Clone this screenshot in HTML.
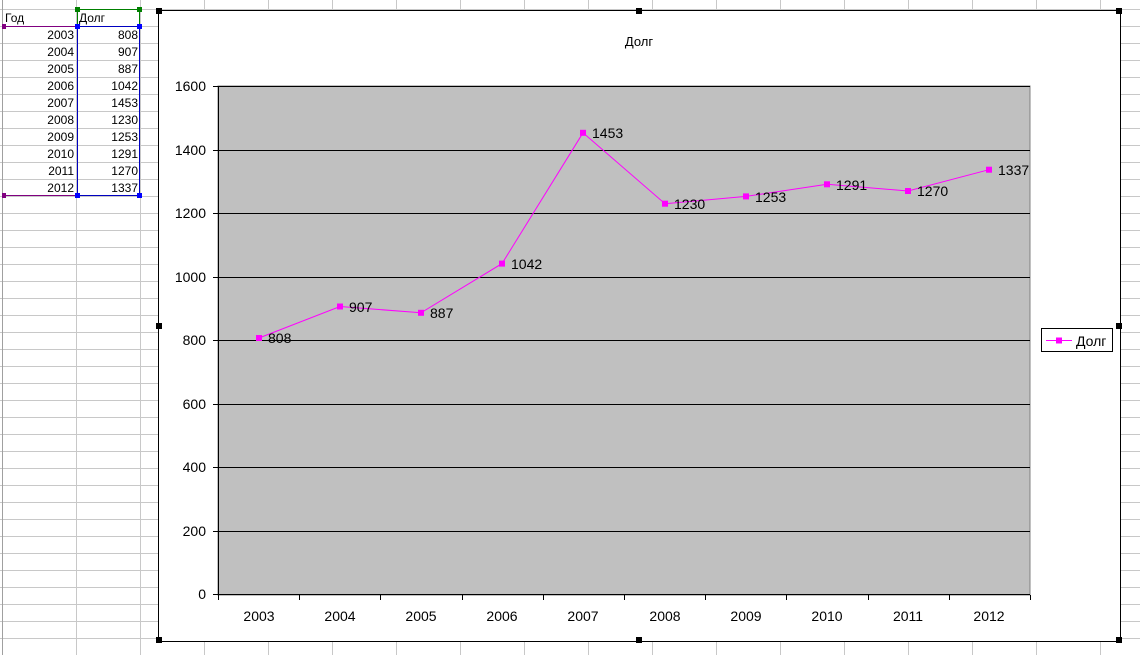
<!DOCTYPE html>
<html><head><meta charset="utf-8"><style>
body{margin:0;background:#fff;}
svg{display:block;font-family:"Liberation Sans",Arial,sans-serif;}
</style></head><body>
<svg width="1140" height="655" xmlns="http://www.w3.org/2000/svg">
<g stroke="#c8c8c8" stroke-width="1">
<line x1="0" y1="9.5" x2="1140" y2="9.5"/>
<line x1="0" y1="26.5" x2="1140" y2="26.5"/><line x1="0" y1="43.5" x2="1140" y2="43.5"/><line x1="0" y1="60.5" x2="1140" y2="60.5"/><line x1="0" y1="77.5" x2="1140" y2="77.5"/><line x1="0" y1="94.5" x2="1140" y2="94.5"/><line x1="0" y1="111.5" x2="1140" y2="111.5"/><line x1="0" y1="128.5" x2="1140" y2="128.5"/><line x1="0" y1="145.5" x2="1140" y2="145.5"/><line x1="0" y1="162.5" x2="1140" y2="162.5"/><line x1="0" y1="179.5" x2="1140" y2="179.5"/><line x1="0" y1="196.5" x2="1140" y2="196.5"/><line x1="0" y1="213.5" x2="1140" y2="213.5"/><line x1="0" y1="230.5" x2="1140" y2="230.5"/><line x1="0" y1="247.5" x2="1140" y2="247.5"/><line x1="0" y1="264.5" x2="1140" y2="264.5"/><line x1="0" y1="281.5" x2="1140" y2="281.5"/><line x1="0" y1="298.5" x2="1140" y2="298.5"/><line x1="0" y1="315.5" x2="1140" y2="315.5"/><line x1="0" y1="332.5" x2="1140" y2="332.5"/><line x1="0" y1="349.5" x2="1140" y2="349.5"/><line x1="0" y1="366.5" x2="1140" y2="366.5"/><line x1="0" y1="383.5" x2="1140" y2="383.5"/><line x1="0" y1="400.5" x2="1140" y2="400.5"/><line x1="0" y1="417.5" x2="1140" y2="417.5"/><line x1="0" y1="434.5" x2="1140" y2="434.5"/><line x1="0" y1="451.5" x2="1140" y2="451.5"/><line x1="0" y1="468.5" x2="1140" y2="468.5"/><line x1="0" y1="485.5" x2="1140" y2="485.5"/><line x1="0" y1="502.5" x2="1140" y2="502.5"/><line x1="0" y1="519.5" x2="1140" y2="519.5"/><line x1="0" y1="536.5" x2="1140" y2="536.5"/><line x1="0" y1="553.5" x2="1140" y2="553.5"/><line x1="0" y1="570.5" x2="1140" y2="570.5"/><line x1="0" y1="587.5" x2="1140" y2="587.5"/><line x1="0" y1="604.5" x2="1140" y2="604.5"/><line x1="0" y1="621.5" x2="1140" y2="621.5"/><line x1="0" y1="638.5" x2="1140" y2="638.5"/>
<line x1="2.5" y1="0" x2="2.5" y2="655" stroke="#a0a0a0"/>
<line x1="76.5" y1="0" x2="76.5" y2="655"/><line x1="140.5" y1="0" x2="140.5" y2="655"/><line x1="204.5" y1="0" x2="204.5" y2="655"/><line x1="268.5" y1="0" x2="268.5" y2="655"/><line x1="332.5" y1="0" x2="332.5" y2="655"/><line x1="396.5" y1="0" x2="396.5" y2="655"/><line x1="460.5" y1="0" x2="460.5" y2="655"/><line x1="524.5" y1="0" x2="524.5" y2="655"/><line x1="588.5" y1="0" x2="588.5" y2="655"/><line x1="652.5" y1="0" x2="652.5" y2="655"/><line x1="716.5" y1="0" x2="716.5" y2="655"/><line x1="780.5" y1="0" x2="780.5" y2="655"/><line x1="844.5" y1="0" x2="844.5" y2="655"/><line x1="908.5" y1="0" x2="908.5" y2="655"/><line x1="972.5" y1="0" x2="972.5" y2="655"/><line x1="1036.5" y1="0" x2="1036.5" y2="655"/><line x1="1100.5" y1="0" x2="1100.5" y2="655"/>
</g>
<g font-size="12" fill="#000">
<text x="5" y="22">Год</text><text x="79" y="22">Долг</text>
<g text-anchor="end">
<text x="74" y="39">2003</text><text x="138" y="39">808</text>
<text x="74" y="56">2004</text><text x="138" y="56">907</text>
<text x="74" y="73">2005</text><text x="138" y="73">887</text>
<text x="74" y="90">2006</text><text x="138" y="90">1042</text>
<text x="74" y="107">2007</text><text x="138" y="107">1453</text>
<text x="74" y="124">2008</text><text x="138" y="124">1230</text>
<text x="74" y="141">2009</text><text x="138" y="141">1253</text>
<text x="74" y="158">2010</text><text x="138" y="158">1291</text>
<text x="74" y="175">2011</text><text x="138" y="175">1270</text>
<text x="74" y="192">2012</text><text x="138" y="192">1337</text>
</g></g>
<rect x="77.5" y="9.5" width="62" height="17" fill="none" stroke="#008000"/>
<rect x="77.5" y="26.5" width="62" height="169" fill="none" stroke="#0000c0"/>
<line x1="3" y1="26.5" x2="77" y2="26.5" stroke="#800080"/><line x1="3" y1="195.5" x2="77" y2="195.5" stroke="#800080"/>
<g fill="#008000"><rect x="75" y="7" width="5" height="5"/><rect x="137" y="7" width="5" height="5"/></g>
<g fill="#0000ff"><rect x="75" y="24" width="5" height="5"/><rect x="137" y="24" width="5" height="5"/><rect x="75" y="193" width="5" height="5"/><rect x="137" y="193" width="5" height="5"/></g>
<g fill="#800080"><rect x="2" y="24" width="4" height="5"/><rect x="2" y="193" width="4" height="5"/></g>
<!-- chart -->
<rect x="158.5" y="10.5" width="962" height="631" fill="#fff" stroke="#000"/>
<g fill="#000"><rect x="156" y="8" width="6" height="6"/><rect x="636" y="8" width="6" height="6"/><rect x="1116" y="8" width="6" height="6"/><rect x="156" y="323" width="6" height="6"/><rect x="1116" y="323" width="6" height="6"/><rect x="156" y="637" width="6" height="6"/><rect x="636" y="637" width="6" height="6"/><rect x="1116" y="637" width="6" height="6"/></g>
<text x="639" y="46" font-size="13" text-anchor="middle">Долг</text>
<rect x="218" y="86" width="812" height="509" fill="#c0c0c0" stroke="#808080"/>
<g stroke="#000" stroke-width="1">
<line x1="213" y1="86.5" x2="1030" y2="86.5"/><line x1="213" y1="150.5" x2="1030" y2="150.5"/><line x1="213" y1="213.5" x2="1030" y2="213.5"/><line x1="213" y1="277.5" x2="1030" y2="277.5"/><line x1="213" y1="340.5" x2="1030" y2="340.5"/><line x1="213" y1="404.5" x2="1030" y2="404.5"/><line x1="213" y1="467.5" x2="1030" y2="467.5"/><line x1="213" y1="531.5" x2="1030" y2="531.5"/><line x1="213" y1="594.5" x2="1030" y2="594.5"/>
<line x1="218.5" y1="86" x2="218.5" y2="600"/>
<line x1="299.5" y1="595" x2="299.5" y2="600"/><line x1="380.5" y1="595" x2="380.5" y2="600"/><line x1="462.5" y1="595" x2="462.5" y2="600"/><line x1="543.5" y1="595" x2="543.5" y2="600"/><line x1="624.5" y1="595" x2="624.5" y2="600"/><line x1="705.5" y1="595" x2="705.5" y2="600"/><line x1="786.5" y1="595" x2="786.5" y2="600"/><line x1="868.5" y1="595" x2="868.5" y2="600"/><line x1="949.5" y1="595" x2="949.5" y2="600"/><line x1="1030.5" y1="595" x2="1030.5" y2="600"/>
</g>
<g font-size="14" text-anchor="end">
<text x="206" y="91">1600</text><text x="206" y="155">1400</text><text x="206" y="218">1200</text><text x="206" y="282">1000</text><text x="206" y="345">800</text><text x="206" y="409">600</text><text x="206" y="472">400</text><text x="206" y="536">200</text><text x="206" y="599">0</text>
</g>
<g font-size="14" text-anchor="middle">
<text x="259" y="621">2003</text><text x="340" y="621">2004</text><text x="421" y="621">2005</text><text x="502" y="621">2006</text><text x="583" y="621">2007</text><text x="665" y="621">2008</text><text x="746" y="621">2009</text><text x="827" y="621">2010</text><text x="908" y="621">2011</text><text x="989" y="621">2012</text>
</g>
<polyline fill="none" stroke="#ff00ff" stroke-width="1" points="259,338 340,306.5 421,312.8 502,263.6 583,132.8 665,203.7 746,196.4 827,184.3 908,191 989,169.7"/>
<g fill="#ff00ff">
<rect x="256" y="335" width="6" height="6"/><rect x="337" y="303.5" width="6" height="6"/><rect x="418" y="309.8" width="6" height="6"/><rect x="499" y="260.6" width="6" height="6"/><rect x="580" y="129.8" width="6" height="6"/><rect x="662" y="200.7" width="6" height="6"/><rect x="743" y="193.4" width="6" height="6"/><rect x="824" y="181.3" width="6" height="6"/><rect x="905" y="188" width="6" height="6"/><rect x="986" y="166.7" width="6" height="6"/>
</g>
<g font-size="14">
<text x="268" y="343">808</text><text x="349" y="312">907</text><text x="430" y="318">887</text><text x="511" y="269">1042</text><text x="592" y="138">1453</text><text x="674" y="209">1230</text><text x="755" y="202">1253</text><text x="836" y="190">1291</text><text x="917" y="196">1270</text><text x="998" y="175">1337</text>
</g>
<rect x="1041.5" y="328.5" width="71" height="23" fill="#fff" stroke="#000"/>
<line x1="1046" y1="340.5" x2="1072" y2="340.5" stroke="#ff00ff"/>
<rect x="1056" y="337.5" width="6" height="6" fill="#ff00ff"/>
<text x="1076" y="346" font-size="14">Долг</text>
</svg>
</body></html>
